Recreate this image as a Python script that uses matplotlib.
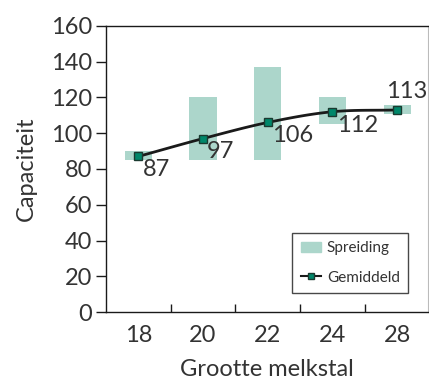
import numpy as np
import matplotlib
matplotlib.use('Agg')
import matplotlib.pyplot as plt
from matplotlib.patches import Patch
from matplotlib.lines import Line2D

plt.rcParams['font.family'] = ['Lato', 'DejaVu Sans']

# melkstal sizes, spreiding (min/max) and gemiddelde capaciteit
sizes = ['18', '20', '22', '24', '28']
spread_low = [85, 85, 85, 105, 111]
spread_high = [90, 120, 137, 120, 116]
mean_cap = [87, 97, 106, 112, 113]

txt = '#333333'
bar_col = '#acd6cb'
marker_col = '#00876a'

fig = plt.figure(figsize=(4.29, 3.81), dpi=100)
ax = fig.add_axes([0.247, 0.181, 0.751, 0.751])

x = np.arange(len(sizes))
low = np.array(spread_low)
high = np.array(spread_high)
ax.bar(x, high - low, bottom=low, width=0.42, color=bar_col, zorder=1)

# smooth curve through the means (Catmull-Rom)
pts = np.column_stack([x, mean_cap]).astype(float)
ext = np.vstack([2 * pts[0] - pts[1], pts, 2 * pts[-1] - pts[-2]])
curve = []
for i in range(1, len(ext) - 2):
    p0, p1, p2, p3 = ext[i - 1], ext[i], ext[i + 1], ext[i + 2]
    t = np.linspace(0, 1, 30)[:, None]
    seg = 0.5 * ((2 * p1) + (-p0 + p2) * t + (2 * p0 - 5 * p1 + 4 * p2 - p3) * t ** 2
                 + (-p0 + 3 * p1 - 3 * p2 + p3) * t ** 3)
    curve.append(seg)
curve = np.vstack(curve)
ax.plot(curve[:, 0], curve[:, 1], color='#1a1a1a', lw=2, zorder=2)
ax.plot(x, mean_cap, ls='none', marker='s', ms=6, mfc=marker_col,
        mec='#1a3a30', mew=1, zorder=3)

for i, v in enumerate(mean_cap):
    if i == len(mean_cap) - 1:
        ax.annotate(str(v), (x[i], v), xytext=(-8, 6), textcoords='offset points',
                    ha='left', va='bottom', fontsize=17, color=txt)
    else:
        ax.annotate(str(v), (x[i], v), xytext=(3, -2), textcoords='offset points',
                    ha='left', va='top', fontsize=17, color=txt)

ax.set_xlim(-0.5, 4.48)
ax.set_ylim(0, 160)
ax.set_yticks(range(0, 161, 20))
ax.set_xticks(x)
ax.set_xticklabels(sizes)
ax.set_xticks(x[:-1] + 0.5, minor=True)
ax.tick_params(axis='y', direction='out', length=7, width=1, colors='#1a1a1a',
               labelcolor=txt, labelsize=17, pad=3)
ax.tick_params(axis='x', which='major', length=0, labelcolor=txt, labelsize=17, pad=9)
ax.tick_params(axis='x', which='minor', direction='in', length=6, width=1, colors='#1a1a1a')

for s in ['left', 'bottom', 'top']:
    ax.spines[s].set_color('#1a1a1a')
    ax.spines[s].set_linewidth(1)
ax.spines['right'].set_color('#bbbbbb')

ax.set_ylabel('Capaciteit', fontsize=17, color=txt, labelpad=10)
ax.set_xlabel('Grootte melkstal', fontsize=17, color=txt, labelpad=10)

handles = [Patch(color=bar_col),
           Line2D([], [], color='#1a1a1a', lw=1.5, marker='s', ms=5,
                  mfc=marker_col, mec='#1a3a30')]
leg = ax.legend(handles, ['Spreiding', 'Gemiddeld'], loc='lower right',
                bbox_to_anchor=(0.938, 0.066), borderaxespad=0, fontsize=11,
                frameon=True, fancybox=False, edgecolor='#1a1a1a', handlelength=1.3,
                labelspacing=1.0, borderpad=0.55, handletextpad=0.4)
leg.get_frame().set_linewidth(1)
for t in leg.get_texts():
    t.set_color(txt)

fig.savefig('out.png', dpi=100)
